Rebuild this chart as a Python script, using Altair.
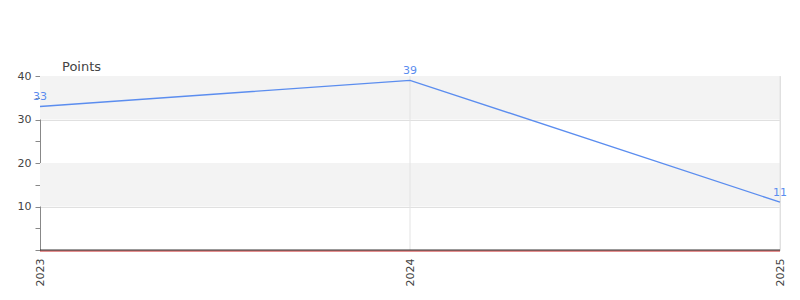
import altair as alt
import pandas as pd

years = [2023, 2024, 2025]
points = [33, 39, 11]
band_low = [10, 30]
band_high = [20, 40]
y_ticks = [0, 5, 10, 15, 20, 25, 30, 35, 40]

FONT = "DejaVu Sans"
LINE = "#5b8def"

df = pd.DataFrame({"year": years, "points": points})
bands = pd.DataFrame({"lo": band_low, "hi": band_high,
                      "x0": [years[0]] * 2, "x1": [years[-1]] * 2})
vgrid = pd.DataFrame({"year": years[1:]})
zero = pd.DataFrame({"v": [0]})

xscale = alt.Scale(type="point", domain=years, padding=0)
yscale = alt.Scale(domain=[0, 40], nice=False)

xaxis = alt.Axis(
    labelAngle=-90, ticks=False, labelPadding=8,
    labelOverlap=False, labelBound=False, labelFlush=False,
    labelFont=FONT, labelFontSize=11, labelColor="#444", title=None,
    domain=False, grid=False)
yaxis = alt.Axis(
    values=y_ticks, title=None,
    labelExpr="datum.value % 10 === 0 && datum.value > 0 ? datum.label : ''",
    labelFont=FONT, labelFontSize=11, labelColor="#444",
    tickSize=5, tickColor="#888", domainColor="#888", labelPadding=4,
    gridColor="#e0e0e0",
    gridOpacity={"condition": {"test": "datum.value % 10 === 0 && datum.value > 0", "value": 1}, "value": 0})

band_layer = alt.Chart(bands).mark_rect(color="#f3f3f3").encode(
    x=alt.X("x0:O", scale=xscale, axis=xaxis),
    x2="x1",
    y=alt.Y("lo:Q", scale=yscale, axis=yaxis),
    y2="hi:Q",
)

vgrid_layer = alt.Chart(vgrid).mark_rule(color="#e3e3e3", strokeWidth=1).encode(
    x=alt.X("year:O", scale=xscale, axis=xaxis)
)

zero_rule = alt.Chart(zero).mark_rule(color="#cc2222", strokeWidth=1, yOffset=1).encode(
    y=alt.Y("v:Q", scale=yscale, axis=yaxis)
)
dark_rule = alt.Chart(zero).mark_rule(color="#333333", strokeWidth=1).encode(
    y=alt.Y("v:Q", scale=yscale, axis=yaxis)
)

line = alt.Chart(df).mark_line(color=LINE, strokeWidth=1.4).encode(
    x=alt.X("year:O", scale=xscale, axis=xaxis),
    y=alt.Y("points:Q", scale=yscale, axis=yaxis),
)
labels = alt.Chart(df).mark_text(color=LINE, font=FONT, fontSize=11, dy=-9).encode(
    x=alt.X("year:O", scale=xscale, axis=xaxis),
    y=alt.Y("points:Q", scale=yscale, axis=yaxis),
    text="points:Q",
)

chart = alt.layer(band_layer, vgrid_layer, zero_rule, dark_rule, line, labels).properties(
    width=740, height=174,
    autosize=alt.AutoSizeParams(type="none"),
    padding={"left": 40, "top": 76, "right": 20, "bottom": 50},
    title=alt.TitleParams("Points", anchor="start", frame="group", dx=22, offset=-9,
                          font=FONT, fontSize=13, fontWeight="normal", color="#444"),
).configure_view(stroke=None).configure(background="white")

chart.save("out.html", embed_options={"renderer": "svg", "actions": False})
